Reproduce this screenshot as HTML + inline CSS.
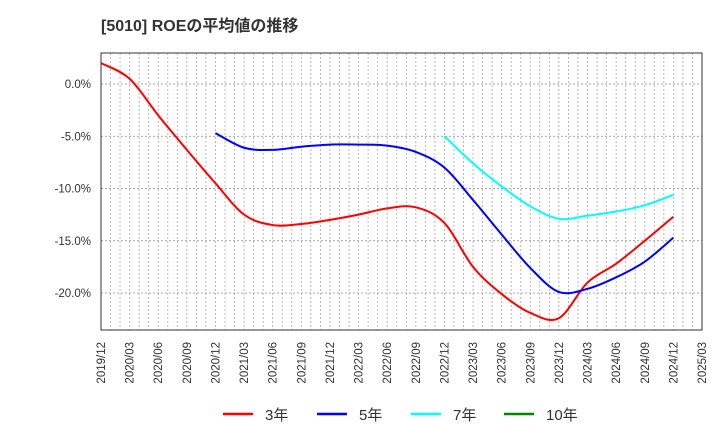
<!DOCTYPE html>
<html><head><meta charset="utf-8">
<style>
body{margin:0;background:#fff;font-family:"Liberation Sans","Noto Sans CJK JP",sans-serif;}
svg text{font-family:"Liberation Sans","Noto Sans CJK JP",sans-serif;}
</style></head>
<body>
<svg id="c" width="720" height="440" xmlns="http://www.w3.org/2000/svg">
<text x="101" y="31" font-size="16" font-weight="bold" fill="#333">[5010]  ROEの平均値の推移</text>
<g id="grid"></g>
<g id="yax"></g>
<g id="xax"></g>
<g id="series"></g>
<rect x="101" y="53" width="601" height="277" fill="none" stroke="#333" stroke-width="1"/>
<g>
<g><line x1="223" y1="414" x2="253" y2="414" stroke="#f00" stroke-width="2.5"/><text x="265" y="420" font-size="15" fill="#333">3年</text></g>
<g><line x1="317" y1="414" x2="347" y2="414" stroke="#00f" stroke-width="2.5"/><text x="359" y="420" font-size="15" fill="#333">5年</text></g>
<g><line x1="411" y1="414" x2="441" y2="414" stroke="#0ff" stroke-width="2.5"/><text x="453" y="420" font-size="15" fill="#333">7年</text></g>
<g><line x1="504" y1="414" x2="534" y2="414" stroke="#080" stroke-width="2.5"/><text x="546" y="420" font-size="15" fill="#333">10年</text></g>
</g>
</svg>
<script>
const xLabels=["2019/12","2020/03","2020/06","2020/09","2020/12","2021/03","2021/06","2021/09","2021/12","2022/03","2022/06","2022/09","2022/12","2023/03","2023/06","2023/09","2023/12","2024/03","2024/06","2024/09","2024/12","2025/03"];
const yTicks=[0,-5,-10,-15,-20];
const s3=[2.0,0.5,-3.0,-6.3,-9.5,-12.5,-13.5,-13.4,-13.0,-12.5,-11.9,-11.8,-13.3,-17.5,-20.1,-21.9,-22.4,-19.0,-17.2,-15.0,-12.7];
const s5=[-4.7,-6.1,-6.3,-6.0,-5.8,-5.8,-5.9,-6.5,-8.0,-11.1,-14.4,-17.6,-19.9,-19.6,-18.5,-17.0,-14.7];
const s5start=4;
const s7=[-5.0,-7.6,-9.8,-11.7,-12.9,-12.6,-12.2,-11.6,-10.6];
const s7start=12;
const NS="http://www.w3.org/2000/svg";
const X0=101,X1=702,Y0=53,Y1=330;
const nQ=xLabels.length-1;
const xs=i=>X0+(X1-X0)*i/nQ;
const ys=v=>84-(v)*(293-84)/20;
function mk(t,a,p){const e=document.createElementNS(NS,t);for(const k in a)e.setAttribute(k,a[k]);p.appendChild(e);return e;}
const grid=document.getElementById('grid'),yax=document.getElementById('yax'),xax=document.getElementById('xax'),ser=document.getElementById('series');
for(let m=1;m<nQ*3;m++){const x=X0+(X1-X0)*m/(nQ*3);
const l=mk('line',{x1:x,x2:x,y1:Y0,y2:Y1,stroke:'#aaa','stroke-dasharray':'2,2','stroke-width':0.8},grid);

}
yTicks.forEach(v=>{const y=ys(v);
const l=mk('line',{x1:X0,x2:X1,y1:y,y2:y,stroke:'#888','stroke-dasharray':'2,2','stroke-width':0.8},grid);


const t=mk('text',{x:91,y:y+4,'font-size':11.5,fill:'#333','text-anchor':'end'},yax);t.textContent=v.toFixed(1)+'%';

});
xLabels.forEach((s,i)=>{const x=xs(i);
const t=mk('text',{transform:`translate(${x+4},342) rotate(-90)`,'font-size':11.5,fill:'#333','text-anchor':'end'},xax);t.textContent=s;

});
function path(vals,start){const p=vals.map((v,i)=>[xs(start+i),ys(v)]);let d=`M${p[0][0]},${p[0][1]}`;
for(let i=0;i<p.length-1;i++){const a=p[i-1]||p[i],b=p[i],c=p[i+1],e=p[i+2]||c;
d+=`C${b[0]+(c[0]-a[0])/6},${b[1]+(c[1]-a[1])/6} ${c[0]-(e[0]-b[0])/6},${c[1]-(e[1]-b[1])/6} ${c[0]},${c[1]}`;}return d;}
[[s3,0,'#f00','line-3y'],[s5,s5start,'#00f','line-5y'],[s7,s7start,'#0ff','line-7y']].forEach(([v,st,c,n])=>{
const e=mk('path',{d:path(v,st),fill:'none',stroke:c,'stroke-width':2},ser);

});
</script>
</body></html>
